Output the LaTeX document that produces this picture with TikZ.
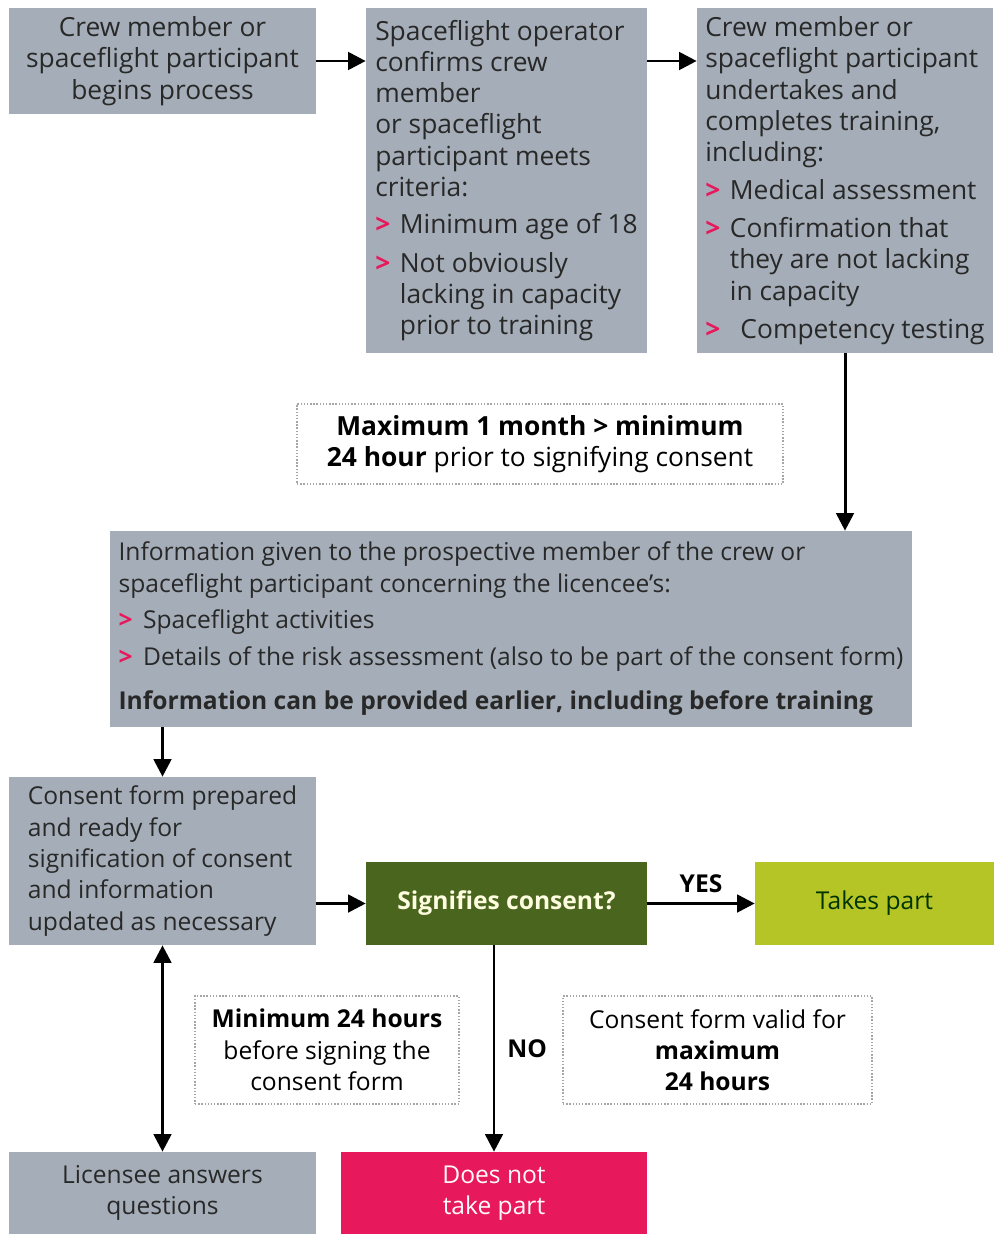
\documentclass[tikz,border=0pt]{standalone}
\usepackage{fontspec}
\setmainfont{Open Sans}
\usetikzlibrary{arrows.meta}

\definecolor{boxgrey}{RGB}{165,174,184}
\definecolor{darkgreen}{RGB}{74,101,30}
\definecolor{limegreen}{RGB}{182,197,38}
\definecolor{hotpink}{RGB}{232,24,92}
\definecolor{textgrey}{RGB}{40,40,40}

% pink chevron bullet and matching indent
\newcommand{\bul}{\makebox[14pt][l]{\textcolor{hotpink}{\textbf{>}}}}
\newcommand{\ind}{\hspace*{14pt}}

\begin{document}
\begin{tikzpicture}[x=0.02cm, y=-0.02cm,
  bigtext/.style={font=\fontsize{15}{17.8}\selectfont},
  smalltext/.style={font=\fontsize{14}{17.8}\selectfont},
  boldtext/.style={font=\fontsize{14}{17.8}\selectfont\bfseries},
  greybox/.style={fill=boxgrey, text=textgrey, inner sep=0pt, align=left},
  notebox/.style={draw=gray!70, densely dotted, line width=0.8pt, inner sep=0pt, align=center},
  flow/.style={line width=1.7pt, -{Triangle[length=10pt,width=10pt]}},
  twoway/.style={line width=1.7pt, {Triangle[length=10pt,width=10pt]}-{Triangle[length=10pt,width=10pt]}}]
  \useasboundingbox (0,0) rectangle (994,1234);

  % Top row
  \node[greybox, bigtext, align=center, minimum width=6.14cm, minimum height=2.12cm]
    (start) at (162.5,61) {Crew member or\\ spaceflight participant\\ begins process};
  \node[greybox, bigtext, minimum width=5.62cm, minimum height=6.9cm]
    (confirm) at (506.5,180.5) {Spaceflight operator\\ confirms crew\\ member\\ or spaceflight\\
      participant meets\\ criteria:\\[3.2pt]
      \bul Minimum age of 18\\[4.4pt]
      \bul Not obviously\\ \ind lacking in capacity\\ \ind prior to training};
  \node[greybox, bigtext, minimum width=5.92cm, minimum height=6.9cm]
    (training) at (845,180.5) {Crew member or\\ spaceflight participant\\ undertakes and\\
      completes training,\\ including:\\[3.8pt]
      \bul Medical assessment\\[3.8pt]
      \bul Confirmation that\\ \ind they are not lacking\\ \ind in capacity\\[3.8pt]
      \bul\hspace{0.4em}Competency testing};

  % Timing note
  \node[notebox, bigtext, minimum width=9.72cm, minimum height=1.6cm]
    (window) at (540,444) {\textbf{Maximum 1 month > minimum}\\ \textbf{24 hour} prior to signifying consent};

  % Information box
  \node[greybox, smalltext, minimum width=16.04cm, minimum height=3.92cm]
    (info) at (511,629) {Information given to the prospective member of the crew or\\
      spaceflight participant concerning the licencee's:\\[2.8pt]
      \bul Spaceflight activities\\[3.4pt]
      \bul Details of the risk assessment (also to be part of the consent form)\\[7.4pt]
      \textbf{Information can be provided earlier, including before training}};

  % Consent stage
  \node[greybox, smalltext, minimum width=6.14cm, minimum height=3.36cm]
    (form) at (162.5,861) {Consent form prepared\\ and ready for\\ signification of consent\\
      and information\\ updated as necessary};
  \node[fill=darkgreen, text=white!88!yellow, boldtext, inner sep=0pt,
    minimum width=5.62cm, minimum height=1.66cm] (decide) at (506.5,903.5) {Signifies consent?};
  \node[fill=limegreen, text=black!80!green, smalltext, inner sep=0pt,
    minimum width=4.78cm, minimum height=1.66cm] (yes) at (874.5,903.5) {Takes part};

  % Lower notes
  \node[notebox, smalltext, minimum width=5.28cm, minimum height=2.16cm]
    (wait) at (327,1050) {\textbf{Minimum 24 hours}\\ before signing the\\ consent form};
  \node[notebox, smalltext, minimum width=6.18cm, minimum height=2.16cm]
    (valid) at (717.5,1050) {Consent form valid for\\ \textbf{maximum}\\ \textbf{24 hours}};

  % Bottom row
  \node[greybox, smalltext, align=center, minimum width=6.14cm, minimum height=1.64cm]
    (answers) at (162.5,1193) {Licensee answers\\ questions};
  \node[fill=hotpink, text=white!92!pink, smalltext, align=center, inner sep=0pt,
    minimum width=6.12cm, minimum height=1.64cm] (no) at (494,1193) {Does not\\ take part};

  % Connectors
  \draw[flow] (start.east) -- (start.east -| confirm.west);
  \draw[flow] (confirm.east |- start.east) -- (training.west |- start.east);
  \draw[flow] (training.south) -- (training.south |- info.north);
  \draw[flow] (form.north |- info.south) -- (form.north);
  \draw[flow] (form.east |- decide.west) -- (decide.west);
  \draw[flow] (decide.east) -- node[above, boldtext, yshift=2pt] {YES} (yes.west);
  \draw[flow] (no.north |- decide.south) -- node[right, boldtext, xshift=0.12cm] {NO} (no.north);
  \draw[twoway] (form.south) -- (answers.north);
\end{tikzpicture}
\end{document}
